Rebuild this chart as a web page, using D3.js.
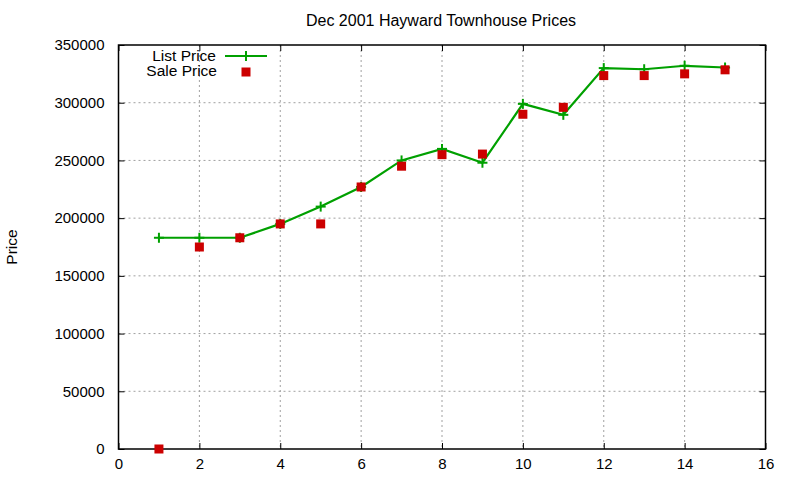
<!DOCTYPE html>
<html>
<head>
<meta charset="utf-8">
<script src="https://cdn.jsdelivr.net/npm/d3@7"></script>
<style>
  body { margin: 0; background: #fff; }
  svg { font-family: "Liberation Sans", Arial, sans-serif; }
  .grid line { stroke: #a0a0a0; stroke-dasharray: 2,3; }
</style>
</head>
<body>
<div id="chart"></div>
<script>
// house index along x, prices in dollars
const houses = [1, 2, 3, 4, 5, 6, 7, 8, 9, 10, 11, 12, 13, 14, 15];
const listPrice = [183000, 183000, 183000, 195000, 210000, 227000, 250000, 260000, 248000, 299000, 289500, 330000, 329000, 332000, 330500];
const salePrice = [0, 175000, 183000, 195000, 195000, 227000, 245000, 255000, 255500, 290000, 296000, 323500, 323500, 325000, 328500];
const xTicks = [0, 2, 4, 6, 8, 10, 12, 14, 16];
const yTicks = [0, 50000, 100000, 150000, 200000, 250000, 300000, 350000];

const W = 800, H = 480;
const margin = { top: 45, right: 34.5, bottom: 31, left: 118.5 };
const width = W - margin.left - margin.right;
const height = H - margin.top - margin.bottom;

const svg = d3.select("#chart").append("svg")
    .attr("width", W)
    .attr("height", H);

const g = svg.append("g")
    .attr("transform", `translate(${margin.left},${margin.top})`);

const x = d3.scaleLinear().domain([0, 16]).range([0, width]);
const y = d3.scaleLinear().domain([0, 350000]).range([height, 0]);

// grid (skip the border lines)
g.append("g").attr("class", "grid")
    .selectAll("line.gx").data(xTicks.slice(1, -1)).enter().append("line")
    .attr("x1", d => x(d)).attr("x2", d => x(d))
    .attr("y1", 0).attr("y2", height);
g.append("g").attr("class", "grid")
    .selectAll("line.gy").data(yTicks.slice(1, -1)).enter().append("line")
    .attr("x1", 0).attr("x2", width)
    .attr("y1", d => y(d)).attr("y2", d => y(d));

// axes, ticks pointing inward like gnuplot
const tickLen = 6;
const styleAxis = sel => {
    sel.select(".domain").remove();
    sel.selectAll("line").attr("stroke", "#000");
    sel.selectAll("text").attr("font-size", 15).attr("fill", "#000");
};
g.append("g")
    .attr("transform", `translate(0,${height})`)
    .call(d3.axisBottom(x).tickValues(xTicks).tickSize(-tickLen).tickPadding(9))
    .call(styleAxis);
g.append("g")
    .call(d3.axisTop(x).tickValues(xTicks).tickSize(-tickLen).tickFormat(""))
    .call(styleAxis);
g.append("g")
    .call(d3.axisLeft(y).tickValues(yTicks).tickSize(-tickLen).tickPadding(14).tickFormat(d3.format("d")))
    .call(styleAxis);
g.append("g")
    .attr("transform", `translate(${width},0)`)
    .call(d3.axisRight(y).tickValues(yTicks).tickSize(-tickLen).tickFormat(""))
    .call(styleAxis);

// border
g.append("rect")
    .attr("width", width).attr("height", height)
    .attr("fill", "none").attr("stroke", "#000").attr("stroke-width", 1.5);

const green = "#00a000", red = "#cc0000";

// list price line
const line = d3.line().x((d, i) => x(houses[i])).y(d => y(d));
g.append("path")
    .datum(listPrice)
    .attr("d", line)
    .attr("fill", "none")
    .attr("stroke", green)
    .attr("stroke-width", 2.2);

const cross = (sel, cx, cy) => {
    sel.append("line").attr("x1", cx - 5).attr("x2", cx + 5).attr("y1", cy).attr("y2", cy)
        .attr("stroke", green).attr("stroke-width", 2);
    sel.append("line").attr("x1", cx).attr("x2", cx).attr("y1", cy - 5).attr("y2", cy + 5)
        .attr("stroke", green).attr("stroke-width", 2);
};
listPrice.forEach((d, i) => cross(g, x(houses[i]), y(d)));

// sale price squares
g.selectAll("rect.sale").data(salePrice).enter().append("rect")
    .attr("class", "sale")
    .attr("x", (d, i) => x(houses[i]) - 4.5)
    .attr("y", d => y(d) - 4.5)
    .attr("width", 9).attr("height", 9)
    .attr("fill", red);

// title and axis label
svg.append("text")
    .attr("x", 441).attr("y", 26)
    .attr("text-anchor", "middle")
    .attr("font-size", 16)
    .text("Dec 2001 Hayward Townhouse Prices");

svg.append("text")
    .attr("transform", "translate(17,247) rotate(-90)")
    .attr("text-anchor", "middle")
    .attr("font-size", 15.5)
    .text("Price");

// legend
const legend = svg.append("g");
legend.append("text")
    .attr("x", 216).attr("y", 60.5)
    .attr("text-anchor", "end").attr("font-size", 15.5)
    .text("List Price");
legend.append("line")
    .attr("x1", 225).attr("x2", 267).attr("y1", 56).attr("y2", 56)
    .attr("stroke", green).attr("stroke-width", 2.2);
cross(legend, 246, 56);
legend.append("text")
    .attr("x", 217).attr("y", 76)
    .attr("text-anchor", "end").attr("font-size", 15.5)
    .text("Sale Price");
legend.append("rect")
    .attr("x", 241.5).attr("y", 67.5).attr("width", 9).attr("height", 9)
    .attr("fill", red);
</script>
</body>
</html>
